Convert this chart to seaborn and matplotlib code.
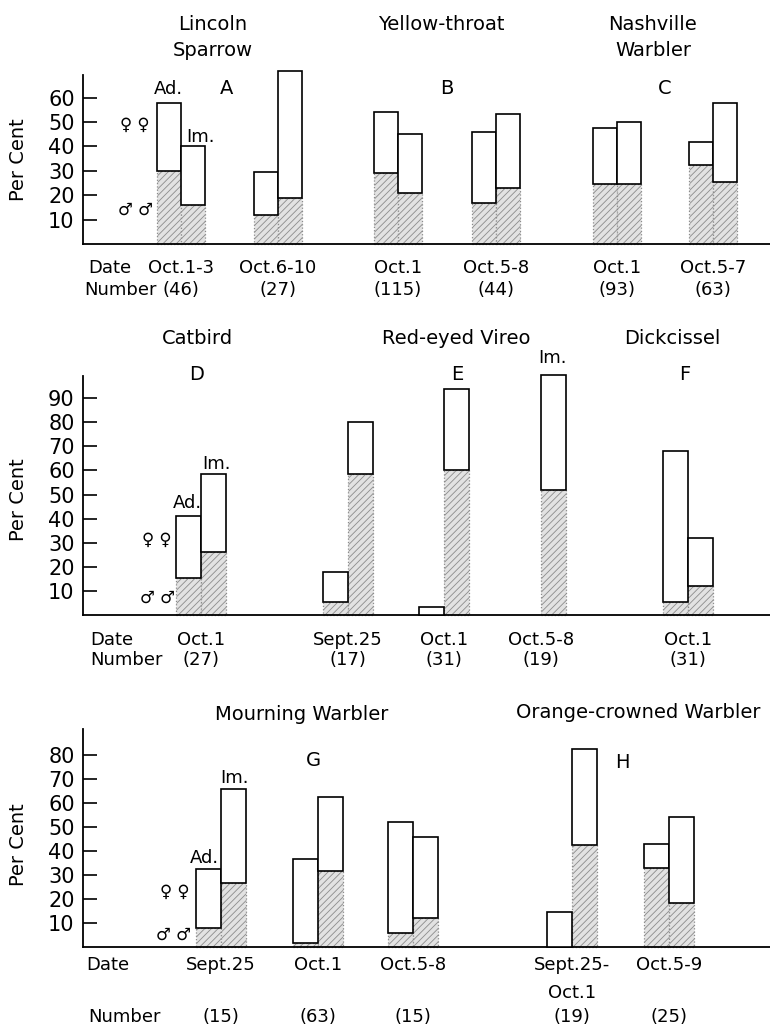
import matplotlib
matplotlib.use("Agg")
import matplotlib.pyplot as plt
import seaborn as sns

# ---------------- data ----------------
top_species = ["Lincoln\nSparrow", "Yellow-throat", "Nashville\nWarbler"]
top_letters = ["A", "B", "C"]
top_dates = ["Oct.1-3", "Oct.6-10", "Oct.1", "Oct.5-8", "Oct.1", "Oct.5-7"]
top_numbers = ["(46)", "(27)", "(115)", "(44)", "(93)", "(63)"]
top_ad_total = [58, 29.5, 54, 46, 47.5, 42]
top_ad_male = [30, 12, 29, 17, 24.5, 32.5]
top_im_total = [40, 71, 45, 53.5, 50, 58]
top_im_male = [16, 19, 21, 23, 24.5, 25.5]
top_yticks = [10, 20, 30, 40, 50, 60]

mid_species = ["Catbird", "Red-eyed Vireo", "Dickcissel"]
mid_letters = ["D", "E", "F"]
mid_dates = ["Oct.1", "Sept.25", "Oct.1", "Oct.5-8", "Oct.1"]
mid_numbers = ["(27)", "(17)", "(31)", "(19)", "(31)"]
mid_ad_total = [41, 18, 3.3, 0, 68]
mid_ad_male = [15.5, 5.5, 0, 0, 5.5]
mid_im_total = [58.5, 80, 94, 99.5, 32]
mid_im_male = [26, 58.5, 60, 52, 12]
mid_yticks = [10, 20, 30, 40, 50, 60, 70, 80, 90]

bot_species = ["Mourning Warbler", "Orange-crowned Warbler"]
bot_letters = ["G", "H"]
bot_dates = ["Sept.25", "Oct.1", "Oct.5-8", "Sept.25-\nOct.1", "Oct.5-9"]
bot_numbers = ["(15)", "(63)", "(15)", "(19)", "(25)"]
bot_ad_total = [32.5, 36.5, 52, 14.5, 43]
bot_ad_male = [8, 1.5, 6, 0, 33]
bot_im_total = [66, 62.5, 46, 82.5, 54]
bot_im_male = [26.5, 31.5, 12, 42.5, 18.5]
bot_yticks = [10, 20, 30, 40, 50, 60, 70, 80]

# ---------------- layout (pixels) ----------------
W, H = 770, 1031
AX_LEFT = 83
top_pos = [98, 195, 315, 413, 534, 630]
mid_pos = [118, 265, 361, 458, 605]
bot_pos = [138, 235, 330, 489, 586]

sns.set_theme(style="white")
plt.rcParams["font.family"] = ["DejaVu Sans"]
plt.rcParams["hatch.linewidth"] = 0.6

fig = plt.figure(figsize=(W / 100, H / 100), dpi=100)

TITLE = 14


def T(x, y, s, size=13, **kw):
    kw.setdefault("ha", "center")
    kw.setdefault("va", "center")
    fig.text(x / W, 1 - y / H, s, fontsize=size, color="black", **kw)


def make_axes(baseline, top, ymax):
    ax = fig.add_axes([AX_LEFT / W, 1 - baseline / H, (W - AX_LEFT) / W, (baseline - top) / H])
    ax.set_xlim(0, W - AX_LEFT)
    ax.set_ylim(0, ymax)
    sns.despine(ax=ax, top=True, right=True)
    for s in ("left", "bottom"):
        ax.spines[s].set_color("black")
        ax.spines[s].set_linewidth(1.3)
    ax.set_facecolor("white")
    ax.set_xticks([])
    ax.tick_params(axis="y", direction="in", length=10, width=1.2, color="black",
                   labelsize=15, pad=6, left=True, labelcolor="black")
    return ax


def draw_bars(ax, pos, ad_tot, ad_m, im_tot, im_m, w):
    for p, at, am, it, im in zip(pos, ad_tot, ad_m, im_tot, im_m):
        for x0, tot, male in ((p - w, at, am), (p, it, im)):
            if tot <= 0:
                continue
            if male > 0:
                ax.bar(x0, male, width=w, align="edge", facecolor="#e2e2e2",
                       edgecolor="#8c8c8c", hatch="/////", linewidth=0.9,
                       linestyle=":", zorder=2, clip_on=False)
            ax.bar(x0, tot - male, bottom=male, width=w, align="edge",
                   facecolor="white", edgecolor="black", linewidth=1.2,
                   zorder=3, clip_on=False)


def labels_row(pos, dates, numbers, y_date, y_num):
    for p, d, n in zip(pos, dates, numbers):
        x = AX_LEFT + p
        if "\n" in d:
            a, b = d.split("\n")
            T(x, y_date, a)
            T(x, y_date + 28, b)
        else:
            T(x, y_date, d)
        if n:
            T(x, y_num, n)


# ---------- panel 1 ----------
ax1 = make_axes(244, 75, 69.3)
draw_bars(ax1, top_pos, top_ad_total, top_ad_male, top_im_total, top_im_male, 24)
ax1.set_yticks(top_yticks)
T(18, 160, "Per Cent", size=14, rotation=90)
T(213, 25, top_species[0].split("\n")[0], size=TITLE)
T(213, 50, top_species[0].split("\n")[1], size=TITLE)
T(441, 25, top_species[1], size=TITLE)
T(653, 25, top_species[2].split("\n")[0], size=TITLE)
T(653, 50, top_species[2].split("\n")[1], size=TITLE)
for x, l in zip((227, 447, 665), top_letters):
    T(x, 88, l, size=TITLE)
T(168, 89, "Ad.")
T(201, 137, "Im.")
T(135, 125, "♀ ♀", size=12)
T(135, 210, "♂ ♂", size=12)
T(110, 268, "Date")
T(120, 290, "Number")
labels_row(top_pos, top_dates, top_numbers, 268, 290)

# ---------- panel 2 ----------
ax2 = make_axes(615, 376, 99.2)
draw_bars(ax2, mid_pos, mid_ad_total, mid_ad_male, mid_im_total, mid_im_male, 25)
ax2.set_yticks(mid_yticks)
T(18, 500, "Per Cent", size=14, rotation=90)
for x, s in zip((197, 456, 672), mid_species):
    T(x, 339, s, size=TITLE)
for x, l in zip((197, 457, 685), mid_letters):
    T(x, 375, l, size=TITLE)
T(187, 503, "Ad.")
T(216, 464, "Im.")
T(553, 358, "Im.")
T(157, 540, "♀ ♀", size=12)
T(157, 598, "♂ ♂", size=12)
T(112, 640, "Date")
T(127, 660, "Number")
labels_row(mid_pos, mid_dates, mid_numbers, 640, 660)

# ---------- panel 3 ----------
ax3 = make_axes(947, 729, 90.8)
draw_bars(ax3, bot_pos, bot_ad_total, bot_ad_male, bot_im_total, bot_im_male, 25)
ax3.set_yticks(bot_yticks)
T(18, 845, "Per Cent", size=14, rotation=90)
T(302, 715, bot_species[0], size=TITLE)
T(638, 713, bot_species[1], size=TITLE)
T(313, 760, bot_letters[0], size=TITLE)
T(622, 763, bot_letters[1], size=TITLE)
T(204, 858, "Ad.")
T(235, 778, "Im.")
T(175, 892, "♀ ♀", size=12)
T(173, 935, "♂ ♂", size=12)
T(108, 965, "Date")
T(125, 1017, "Number")
labels_row(bot_pos, bot_dates, [""] * len(bot_numbers), 965, 965)
for p, n in zip(bot_pos, bot_numbers):
    T(AX_LEFT + p, 1017, n)

fig.savefig("out.png", dpi=100, facecolor="white")
